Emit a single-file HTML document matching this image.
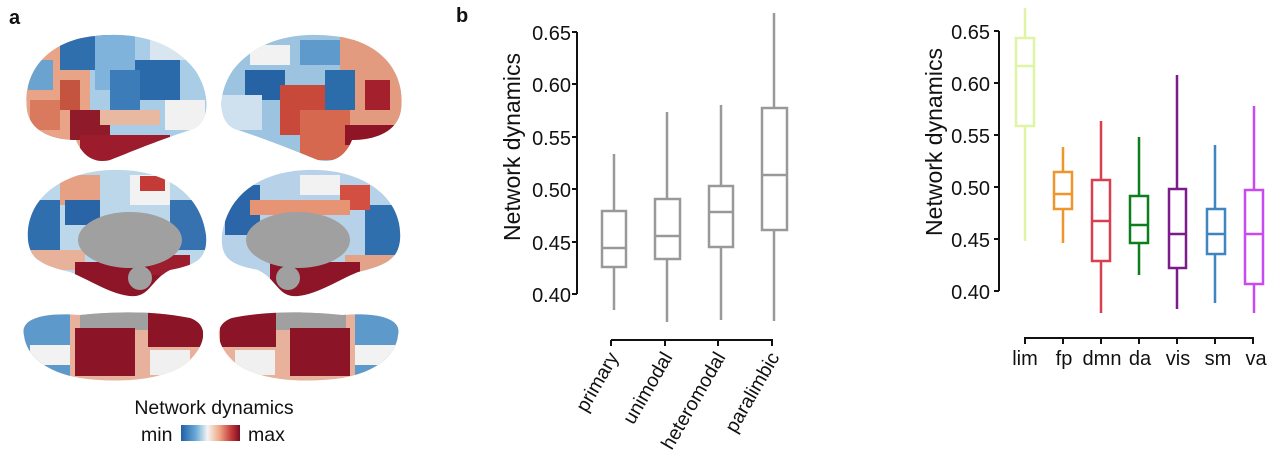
<!DOCTYPE html>
<html><head><meta charset="utf-8"><style>
html,body{margin:0;padding:0;background:#fff;}
svg{display:block;font-family:"Liberation Sans",Arial,sans-serif;}
</style></head><body>
<svg width="1268" height="470" viewBox="0 0 1268 470" xmlns="http://www.w3.org/2000/svg">
<defs>
<linearGradient id="cb" x1="0" x2="1" y1="0" y2="0">
<stop offset="0" stop-color="#1f5fa6"/><stop offset="0.25" stop-color="#6aaad6"/><stop offset="0.45" stop-color="#f4f4f4"/><stop offset="0.65" stop-color="#f0a885"/><stop offset="0.85" stop-color="#c33b3b"/><stop offset="1" stop-color="#7a0c22"/></linearGradient>
<clipPath id="l1"><path d="M27,110 C22,70 50,40 95,36 C130,32 170,38 195,70 C212,95 210,125 190,130 C160,140 140,148 110,160 C90,165 80,150 76,140 C50,140 30,130 27,110Z"/></clipPath>
<clipPath id="l2"><path d="M401,110 C406,70 378,40 333,36 C298,32 258,38 233,70 C216,95 218,125 238,130 C268,140 288,148 318,160 C338,165 348,150 352,140 C378,140 398,130 401,110Z"/></clipPath>
<clipPath id="m1"><path d="M28,240 C25,200 60,172 110,170 C160,168 200,190 206,235 C208,260 195,265 170,270 C150,280 150,298 130,296 C110,294 90,280 70,272 C40,265 30,258 28,240Z"/></clipPath>
<clipPath id="m2"><path d="M400,240 C403,200 368,172 318,170 C268,168 228,190 222,235 C220,260 233,265 258,270 C278,280 278,298 298,296 C318,294 338,280 358,272 C388,265 398,258 400,240Z"/></clipPath>
<clipPath id="v1"><path d="M24,335 C20,320 40,312 80,315 C110,312 150,310 190,318 C210,325 205,345 190,360 C170,380 120,384 80,378 C45,372 26,355 24,335Z"/></clipPath>
<clipPath id="v2"><path d="M398,335 C402,320 382,312 342,315 C312,312 272,310 232,318 C212,325 217,345 232,360 C252,380 302,384 342,378 C377,372 396,355 398,335Z"/></clipPath>
</defs>

<text x="9" y="24" font-size="20" font-weight="bold" fill="#111">a</text>
<text x="456" y="22" font-size="20" font-weight="bold" fill="#111">b</text>

<g clip-path="url(#l1)">
<rect x="20" y="30" width="200" height="140" fill="#a9cde6"/>
<rect x="20" y="30" width="70" height="140" fill="#e9a386"/>
<rect x="60" y="30" width="50" height="40" fill="#2f6fad"/>
<rect x="95" y="30" width="40" height="60" fill="#7fb3db"/>
<rect x="135" y="60" width="45" height="40" fill="#2a6aab"/>
<rect x="110" y="70" width="30" height="40" fill="#3c7cb8"/>
<rect x="70" y="110" width="40" height="30" fill="#8e1a2a"/>
<rect x="80" y="135" width="90" height="30" fill="#9c1c2d"/>
<rect x="100" y="110" width="60" height="15" fill="#e8b9a0"/>
<rect x="30" y="100" width="30" height="30" fill="#d97a5f"/>
<rect x="165" y="100" width="40" height="30" fill="#f1f1f1"/>
<rect x="150" y="35" width="40" height="25" fill="#d9e6f0"/>
<rect x="60" y="80" width="20" height="30" fill="#c4533f"/>
<rect x="28" y="60" width="25" height="30" fill="#6aa3cf"/>
</g>
<g clip-path="url(#l2)">
<rect x="210" y="30" width="200" height="140" fill="#9cc3e0"/>
<rect x="340" y="30" width="70" height="140" fill="#e39b80"/>
<rect x="245" y="70" width="40" height="30" fill="#2563a5"/>
<rect x="280" y="85" width="50" height="50" fill="#c8483a"/>
<rect x="300" y="110" width="50" height="50" fill="#d6684f"/>
<rect x="325" y="70" width="30" height="40" fill="#2b6cab"/>
<rect x="250" y="45" width="40" height="20" fill="#f2f2f2"/>
<rect x="365" y="80" width="25" height="30" fill="#a3202c"/>
<rect x="345" y="125" width="55" height="20" fill="#8e1426"/>
<rect x="222" y="95" width="40" height="35" fill="#cfe1ee"/>
<rect x="300" y="40" width="40" height="25" fill="#5e9bcc"/>
</g>
<g clip-path="url(#m1)">
<rect x="20" y="165" width="200" height="140" fill="#bcd6ea"/>
<rect x="20" y="200" width="40" height="60" fill="#2f6fad"/>
<rect x="60" y="175" width="40" height="30" fill="#e6a084"/>
<rect x="65" y="200" width="35" height="25" fill="#2964a6"/>
<rect x="130" y="175" width="40" height="30" fill="#f2f2f2"/>
<rect x="140" y="176" width="25" height="15" fill="#c43a36"/>
<rect x="170" y="200" width="40" height="50" fill="#3672b0"/>
<rect x="25" y="250" width="60" height="20" fill="#e8b29a"/>
<rect x="75" y="262" width="90" height="40" fill="#8d1527"/>
<rect x="150" y="255" width="40" height="20" fill="#9b1d2e"/>
<ellipse cx="130" cy="240" rx="52" ry="28" fill="#a0a0a0"/>
<ellipse cx="140" cy="278" rx="12" ry="12" fill="#a0a0a0"/>
</g>
<g clip-path="url(#m2)">
<rect x="210" y="165" width="200" height="140" fill="#b7d2e8"/>
<rect x="365" y="205" width="40" height="50" fill="#2f6fad"/>
<rect x="225" y="185" width="35" height="50" fill="#2a66a8"/>
<rect x="340" y="185" width="30" height="25" fill="#d24f42"/>
<rect x="250" y="200" width="100" height="15" fill="#e79475"/>
<rect x="345" y="255" width="55" height="20" fill="#e2a389"/>
<rect x="270" y="262" width="90" height="40" fill="#8d1527"/>
<rect x="300" y="175" width="40" height="20" fill="#f2f2f2"/>
<ellipse cx="298" cy="240" rx="52" ry="28" fill="#a0a0a0"/>
<ellipse cx="288" cy="278" rx="12" ry="12" fill="#a0a0a0"/>
</g>
<g clip-path="url(#v1)">
<rect x="15" y="305" width="200" height="85" fill="#e7b19b"/>
<rect x="15" y="305" width="55" height="85" fill="#5d99cb"/>
<rect x="80" y="310" width="70" height="20" fill="#a0a0a0"/>
<rect x="75" y="328" width="60" height="48" fill="#8b1427"/>
<rect x="148" y="312" width="55" height="35" fill="#8b1427"/>
<rect x="150" y="350" width="40" height="25" fill="#f0f0f0"/>
<rect x="30" y="345" width="40" height="20" fill="#f2f2f2"/>
</g>
<g clip-path="url(#v2)">
<rect x="210" y="305" width="200" height="85" fill="#e7b19b"/>
<rect x="355" y="305" width="55" height="85" fill="#5d99cb"/>
<rect x="276" y="310" width="70" height="20" fill="#a0a0a0"/>
<rect x="290" y="328" width="60" height="48" fill="#8b1427"/>
<rect x="220" y="312" width="56" height="35" fill="#8b1427"/>
<rect x="235" y="350" width="40" height="25" fill="#f0f0f0"/>
<rect x="355" y="345" width="40" height="20" fill="#f2f2f2"/>
</g>

<text x="214" y="414" font-size="19.5" text-anchor="middle" fill="#111">Network dynamics</text>
<text x="141" y="441" font-size="19.5" fill="#111">min</text>
<rect x="181" y="425" width="59" height="16" fill="url(#cb)"/>
<text x="248" y="441" font-size="19.5" fill="#111">max</text>

<g stroke="#111" stroke-width="2" fill="none">
<path d="M577,32 V294"/>
<path d="M572,32 H577 M572,84 H577 M572,137 H577 M572,189 H577 M572,242 H577 M572,294 H577"/>
<path d="M611,340 H773 M611,340 V346 M665,340 V346 M718,340 V346 M772,340 V346"/>
</g>
<g font-size="20" fill="#111" text-anchor="end">
<text x="571" y="40">0.65</text><text x="571" y="92">0.60</text><text x="571" y="145">0.55</text>
<text x="571" y="197">0.50</text><text x="571" y="250">0.45</text><text x="571" y="302">0.40</text>
</g>
<text transform="translate(520,147) rotate(-90)" font-size="23" text-anchor="middle" fill="#111">Network dynamics</text>
<g stroke="#999" stroke-width="2.5" fill="none">
<path d="M614,154 V211 M614,267 V310"/><rect x="602" y="211" width="24" height="56"/><path d="M602,248 H626"/>
<path d="M667,112 V199 M667,259 V322"/><rect x="655" y="199" width="25" height="60"/><path d="M655,236 H680"/>
<path d="M721,105 V186 M721,247 V320"/><rect x="709" y="186" width="24" height="61"/><path d="M709,212 H733"/>
<path d="M774,13 V108 M774,230 V321"/><rect x="762" y="108" width="25" height="122"/><path d="M762,175 H787"/>
</g>
<g font-size="19.5" fill="#111" text-anchor="end">
<text transform="translate(619,357) rotate(-60)">primary</text>
<text transform="translate(673,357) rotate(-60)">unimodal</text>
<text transform="translate(726,357) rotate(-60)">heteromodal</text>
<text transform="translate(780,357) rotate(-60)">paralimbic</text>
</g>

<g stroke="#111" stroke-width="2" fill="none">
<path d="M999,31 V291"/>
<path d="M994,31 H999 M994,83 H999 M994,135 H999 M994,187 H999 M994,239 H999 M994,291 H999"/>
<path d="M1024,338 H1254 M1025,338 V344 M1063,338 V344 M1101,338 V344 M1139,338 V344 M1177,338 V344 M1215,338 V344 M1253,338 V344"/>
</g>
<g font-size="20" fill="#111" text-anchor="end">
<text x="990" y="39">0.65</text><text x="990" y="91">0.60</text><text x="990" y="143">0.55</text>
<text x="990" y="195">0.50</text><text x="990" y="247">0.45</text><text x="990" y="299">0.40</text>
</g>
<text transform="translate(942,142) rotate(-90)" font-size="23" text-anchor="middle" fill="#111">Network dynamics</text>
<g stroke-width="2.5" fill="none">
<g stroke="#dff5a6"><path d="M1025,8 V38 M1025,126 V241"/><rect x="1016" y="38" width="18" height="88"/><path d="M1016,66 H1034"/></g>
<g stroke="#ee952b"><path d="M1063,147 V172 M1063,209 V243"/><rect x="1054" y="172" width="18" height="37"/><path d="M1054,194 H1072"/></g>
<g stroke="#d7404f"><path d="M1101,121 V180 M1101,261 V313"/><rect x="1092" y="180" width="18" height="81"/><path d="M1092,221 H1110"/></g>
<g stroke="#0c7f1c"><path d="M1139,137 V196 M1139,243 V275"/><rect x="1130" y="196" width="18" height="47"/><path d="M1130,225 H1148"/></g>
<g stroke="#7d1b8d"><path d="M1177,75 V189 M1177,268 V309"/><rect x="1169" y="189" width="17" height="79"/><path d="M1169,234 H1186"/></g>
<g stroke="#3f86c0"><path d="M1215,145 V209 M1215,254 V303"/><rect x="1207" y="209" width="18" height="45"/><path d="M1207,234 H1225"/></g>
<g stroke="#c84af0"><path d="M1254,106 V190 M1254,284 V313"/><rect x="1245" y="190" width="18" height="94"/><path d="M1245,234 H1263"/></g>
</g>
<g font-size="20" fill="#111" text-anchor="middle">
<text x="1025" y="365">lim</text><text x="1064" y="365">fp</text><text x="1102" y="365">dmn</text>
<text x="1140" y="365">da</text><text x="1178" y="365">vis</text><text x="1218" y="365">sm</text><text x="1256" y="365">va</text>
</g>
</svg>
</body></html>
